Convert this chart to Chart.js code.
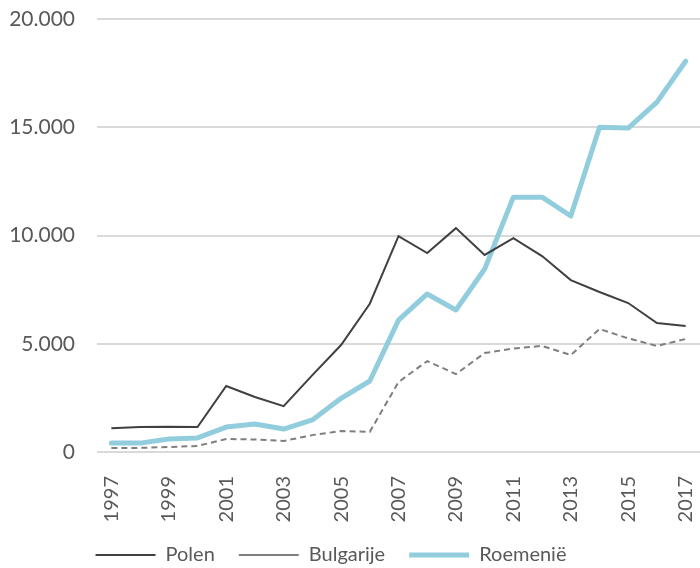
<!DOCTYPE html>
<html>
<head>
<meta charset="utf-8">
<script src="https://cdn.jsdelivr.net/npm/chart.js@4/dist/chart.umd.min.js"></script>
<style>
  html, body { margin: 0; padding: 0; background: #fff; }
  #wrap { width: 700px; height: 568px; }
</style>
</head>
<body>
<div id="wrap"><canvas id="lineChart"></canvas></div>
<script>
const years = ["1997","1998","1999","2000","2001","2002","2003","2004","2005","2006","2007",
               "2008","2009","2010","2011","2012","2013","2014","2015","2016","2017"];
const polen = [1100, 1150, 1170, 1150, 3050, 2540, 2120, 3550, 4940, 6850, 9970,
               9190, 10340, 9100, 9880, 9050, 7940, 7390, 6880, 5960, 5820];
const bulgarije = [185, 190, 230, 280, 600, 580, 510, 780, 970, 930, 3230,
                   4200, 3600, 4570, 4780, 4900, 4480, 5680, 5250, 4900, 5220];
const roemenie = [415, 410, 600, 650, 1150, 1290, 1060, 1480, 2480, 3280, 6090,
                  7300, 6560, 8450, 11770, 11770, 10900, 15000, 14960, 16160, 18050];
const yTicks = [0, 5000, 10000, 15000, 20000];

const textColor = '#595959';
const fontFamily = 'Lato, "Open Sans", sans-serif';

// punt als duizendtal-scheiding
function formatNumber(v) {
    return v.toString().replace(/\B(?=(\d{3})+(?!\d))/g, '.');
}

// legenda op vaste plek zetten en x-labels niet laten afknippen
const legendShift = {
    id: 'legendShift',
    afterLayout(chart) {
        const lg = chart.legend;
        const h = lg.height;
        lg.left -= 19;
        lg.right -= 19;
        lg.top = 521;
        lg.bottom = 521 + h;
        chart.scales.x.bottom = 530;
    }
};

var ctx = document.getElementById('lineChart').getContext('2d');
const chart = new Chart(ctx, {
    type: 'line',
    data: {
        labels: years,
        datasets: [
            {
                label: 'Polen',
                data: polen,
                borderColor: '#404040',
                backgroundColor: '#404040',
                borderWidth: 2,
                pointRadius: 0,
                tension: 0
            },
            {
                label: 'Bulgarije',
                data: bulgarije,
                borderColor: '#7f7f7f',
                backgroundColor: '#7f7f7f',
                borderWidth: 2,
                borderDash: [6, 4],
                pointRadius: 0,
                tension: 0
            },
            {
                label: 'Roemenië',
                data: roemenie,
                borderColor: '#92cddd',
                backgroundColor: '#92cddd',
                borderWidth: 5,
                borderCapStyle: 'round',
                borderJoinStyle: 'round',
                pointRadius: 0,
                tension: 0
            }
        ]
    },
    plugins: [legendShift],
    options: {
        responsive: true,
        maintainAspectRatio: false,
        animation: false,
        layout: { padding: { top: 19, right: 0, left: 0, bottom: 0 } },
        plugins: {
            tooltip: { enabled: false },
            legend: {
                position: 'bottom',
                labels: {
                    usePointStyle: true,
                    pointStyle: 'line',
                    pointStyleWidth: 60,
                    boxHeight: 5,
                    color: textColor,
                    padding: 24,
                    font: { family: fontFamily, size: 20 }
                }
            }
        },
        scales: {
            x: {
                offset: true,
                grid: { display: false },
                border: { display: false },
                afterFit: function (axis) {
                    axis.paddingLeft = 0;
                    axis.paddingRight = 0;
                    // onderkant van het plotgebied op y = 452
                    axis.height = 568 - 452 - axis.chart.legend.height;
                },
                ticks: {
                    color: textColor,
                    font: { family: fontFamily, size: 20 },
                    minRotation: 90,
                    maxRotation: 90,
                    autoSkip: false,
                    padding: 16,
                    callback: function (value, index) {
                        return index % 2 === 0 ? years[index] : '';
                    }
                }
            },
            y: {
                min: 0,
                max: 20000,
                afterBuildTicks: function (axis) {
                    axis.ticks = yTicks.map(v => ({ value: v }));
                },
                afterFit: function (axis) {
                    axis.width = 97;
                    axis.paddingTop = 0;
                    axis.paddingBottom = 0;
                },
                grid: { color: '#d9d9d9', lineWidth: 2, drawTicks: false },
                border: { display: false },
                ticks: {
                    color: textColor,
                    font: { family: fontFamily, size: 21 },
                    padding: 22,
                    callback: function (value) {
                        return formatNumber(value);
                    }
                }
            }
        }
    }
});
</script>
</body>
</html>
